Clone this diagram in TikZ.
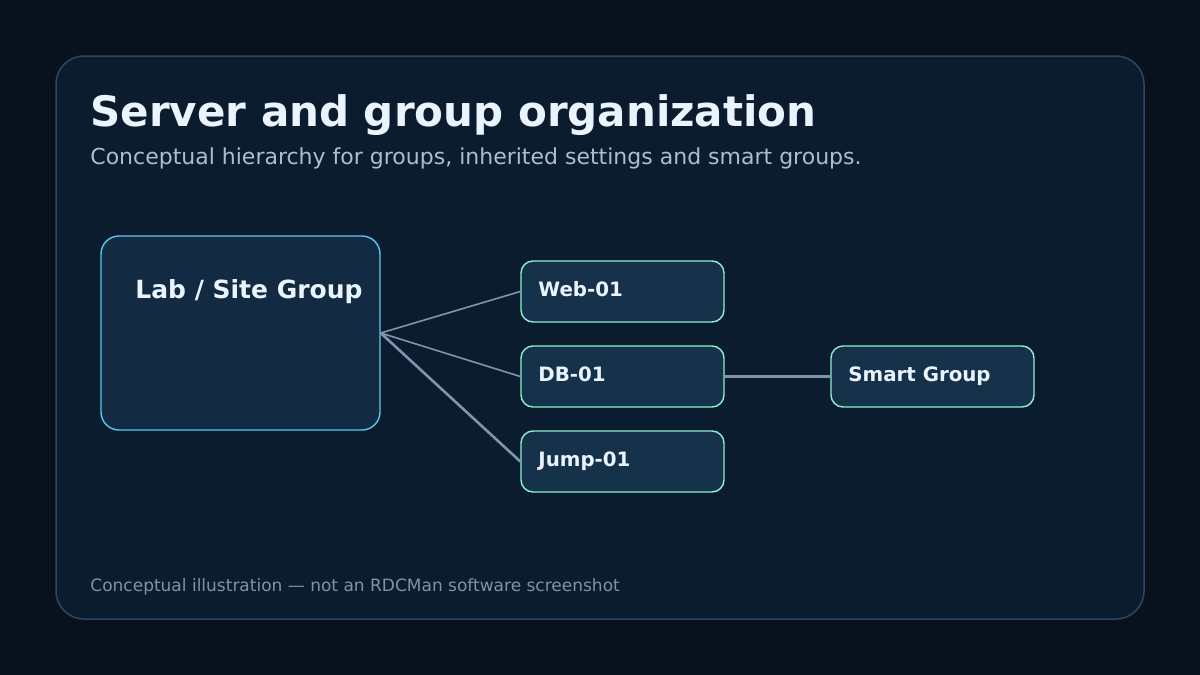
\documentclass[tikz,border=0pt]{standalone}
\usepackage{fontspec}
\setmainfont{DejaVu Sans}
\usetikzlibrary{positioning}

\definecolor{pagebg}{HTML}{09121C}
\definecolor{panelbg}{HTML}{0C1C2F}
\definecolor{panelrim}{HTML}{2C4764}
\definecolor{groupbg}{HTML}{132B42}
\definecolor{grouprim}{HTML}{5CC8F0}
\definecolor{serverbg}{HTML}{16314A}
\definecolor{serverrim}{HTML}{8EEFCF}
\definecolor{linkcol}{HTML}{7F94AE}
\definecolor{titlecol}{HTML}{EAF4FF}
\definecolor{subcol}{HTML}{A9BED5}
\definecolor{footcol}{HTML}{7E92A8}

\begin{document}
\begin{tikzpicture}[x=0.5pt, y=-0.5pt, node distance=0pt,
    panel/.style={rectangle, draw=panelrim, line width=0.75pt, fill=panelbg, rounded corners=14pt, minimum width=544pt, minimum height=281.5pt, inner sep=0pt},
    groupbox/.style={rectangle, draw=grouprim, line width=0.7pt, fill=groupbg, rounded corners=9pt, minimum width=139.5pt, minimum height=97pt, inner sep=0pt},
    serverbox/.style={rectangle, draw=serverrim, line width=0.7pt, fill=serverbg, rounded corners=6pt, minimum width=101.5pt, minimum height=30.5pt, inner sep=0pt},
    boxtext/.style={anchor=base west, inner sep=0pt, text=titlecol, font=\fontsize{9.9}{12}\selectfont\bfseries},
    link/.style={draw=linkcol, line width=0.8pt}]

    \useasboundingbox[fill=pagebg] (0,0) rectangle (1200,675);

    \node [panel] (frame) at (600,337.5) {};

    \node [anchor=base west, inner sep=0pt, text=titlecol, font=\fontsize{21}{25}\selectfont\bfseries] (title) at (90,126) {Server and group organization};
    \node [anchor=base west, inner sep=0pt, text=subcol, font=\fontsize{11}{13}\selectfont] (subtitle) at (90,164) {Conceptual hierarchy for groups, inherited settings and smart groups.};

    \node [groupbox] (lab) at (240.5,333) {};
    \node [boxtext, font=\fontsize{12.5}{15}\selectfont\bfseries] (labtext) at (135,298.5) {Lab / Site Group};

    \node [serverbox] (web) at (622.5,291.5) {};
    \node [serverbox] (db) at (622.5,376.5) {};
    \node [serverbox] (jump) at (622.5,461.5) {};
    \node [serverbox] (smart) at (932.5,376.5) {};

    \node [boxtext] (webtext) at (538,296) {Web-01};
    \node [boxtext] (dbtext) at (538,381) {DB-01};
    \node [boxtext] (jumptext) at (538,466) {Jump-01};
    \node [boxtext] (smarttext) at (848,381) {Smart Group};

    \coordinate (hub) at (lab.east);
    \draw [link] (hub) -- (web.west);
    \draw [link] (hub) -- (db.west);
    \draw [link, line width=1.3pt] (hub) -- (jump.west);
    \draw [link, line width=1.5pt] (db.east) -- (smart.west);

    \node [anchor=base west, inner sep=0pt, text=footcol, font=\fontsize{8.5}{10}\selectfont] (footer) at (90,591) {Conceptual illustration — not an RDCMan software screenshot};
\end{tikzpicture}
\end{document}
